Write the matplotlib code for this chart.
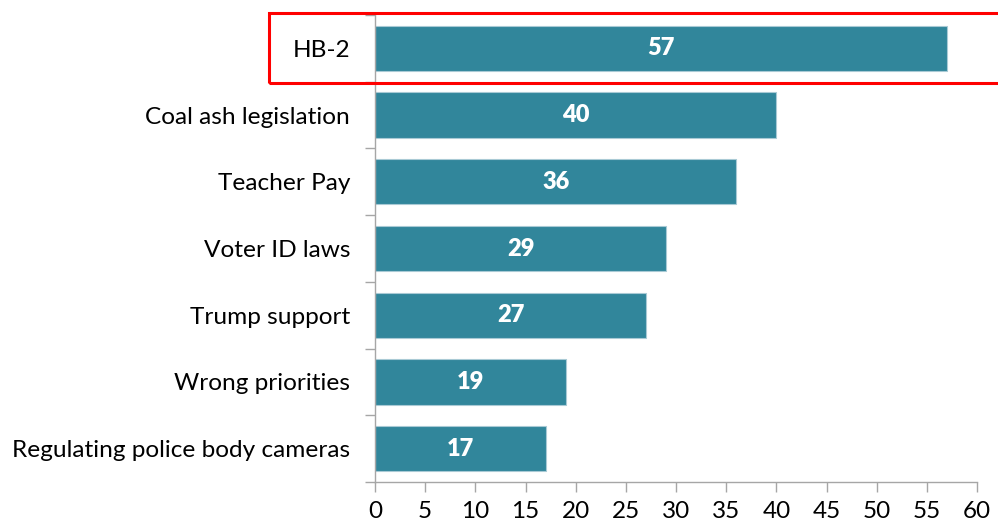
import matplotlib.pyplot as plt
import matplotlib.patches as patches
import numpy as np

categories = ["HB-2", "Coal ash legislation", "Teacher Pay", "Voter ID laws",
              "Trump support", "Wrong priorities", "Regulating police body cameras"]
values = [57, 40, 36, 29, 27, 19, 17]
xticks = list(range(0, 65, 5))

bar_color = "#31869B"
axis_color = "#A6A6A6"
font = ["Lato", "DejaVu Sans"]

fig = plt.figure(figsize=(9.98, 5.27), dpi=100)
ax = fig.add_axes([0.3758, 0.0854, 0.979 - 0.3758, 0.9715 - 0.0854])

y = np.arange(len(categories))
ax.barh(y, values, height=0.68, color=bar_color, edgecolor="#A9CAD5", linewidth=0.8, zorder=2)

for yi, v in zip(y, values):
    ax.text(v / 2, yi, str(v), ha="center", va="center", color="white",
            fontsize=17, fontweight="heavy", family=font)

ax.set_ylim(len(categories) - 0.5, -0.5)
ax.set_xlim(0, 60)
ax.set_xticks(xticks)
ax.set_xticklabels([str(t) for t in xticks], fontsize=17.5, family=font)
ax.set_yticks(y)
ax.set_yticklabels(categories, fontsize=17.6, family=font)
ax.set_yticks(np.arange(-0.5, len(categories), 1), minor=True)

ax.tick_params(axis="y", which="major", length=0, pad=18)
ax.tick_params(axis="y", which="minor", length=7, color=axis_color, width=1)
ax.tick_params(axis="x", length=7, color=axis_color, width=1, pad=7)

for s in ["top", "right"]:
    ax.spines[s].set_visible(False)
for s in ["left", "bottom"]:
    ax.spines[s].set_color(axis_color)
    ax.spines[s].set_linewidth(1)

# red highlight box around the first row
rect = patches.Rectangle((0.2695, 1 - 83 / 527), 0.74, 70 / 527, transform=fig.transFigure,
                         fill=False, edgecolor="#FF0000", linewidth=2.2, clip_on=False)
fig.patches.append(rect)

fig.savefig("out.png", dpi=100)
